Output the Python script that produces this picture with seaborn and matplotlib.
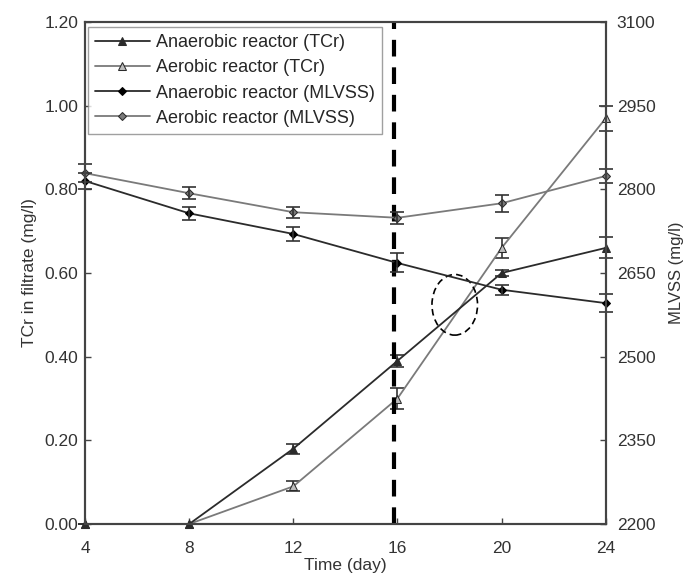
import matplotlib
matplotlib.use("Agg")
import matplotlib.pyplot as plt
from matplotlib.patches import Ellipse
import seaborn as sns
import pandas as pd

# Sampling days
days = [4, 8, 12, 16, 20, 24]

# Total chromium in filtrate (mg/l)
tcr_anaerobic = [0.0, 0.0, 0.18, 0.39, 0.60, 0.66]
tcr_anaerobic_err = [0.0, 0.0, 0.012, 0.014, 0.008, 0.025]
tcr_aerobic = [0.0, 0.0, 0.09, 0.30, 0.66, 0.97]
tcr_aerobic_err = [0.0, 0.0, 0.012, 0.024, 0.024, 0.03]

# Mixed liquor volatile suspended solids (mg/l)
mlvss_anaerobic = [2815, 2757, 2720, 2668, 2620, 2596]
mlvss_anaerobic_err = [14, 12, 12, 17, 9, 16]
mlvss_aerobic = [2829, 2793, 2759, 2749, 2775, 2824]
mlvss_aerobic_err = [16, 11, 10, 11, 15, 12]

labels = ["Anaerobic reactor (TCr)", "Aerobic reactor (TCr)",
          "Anaerobic reactor (MLVSS)", "Aerobic reactor (MLVSS)"]

sns.set_style("white")
plt.rcParams["font.family"] = ["Liberation Sans", "DejaVu Sans"]
plt.rcParams["font.size"] = 12.5

dark = "#2b2b2b"
grey = "#7a7a7a"
fs = 12.5

fig = plt.figure(figsize=(6.86, 5.75), dpi=100)
ax1 = fig.add_axes([0.124, 0.0887, 0.759, 0.873])
ax2 = ax1.twinx()

df_tcr = pd.DataFrame({"day": days, "an": tcr_anaerobic, "ae": tcr_aerobic})
df_ml = pd.DataFrame({"day": days, "an": mlvss_anaerobic, "ae": mlvss_aerobic})

sns.lineplot(data=df_tcr, x="day", y="an", ax=ax1, color=dark, lw=1.3,
             marker="^", markersize=6, markeredgecolor=dark, markerfacecolor=dark,
             label=labels[0], legend=False, clip_on=False, zorder=4)
sns.lineplot(data=df_tcr, x="day", y="ae", ax=ax1, color=grey, lw=1.3,
             marker="^", markersize=6, markeredgecolor=dark, markerfacecolor="#bdbdbd",
             label=labels[1], legend=False, clip_on=False, zorder=3)
sns.lineplot(data=df_ml, x="day", y="an", ax=ax2, color=dark, lw=1.3,
             marker="D", markersize=4, markeredgecolor="black", markerfacecolor="black",
             label=labels[2], legend=False, clip_on=False)
sns.lineplot(data=df_ml, x="day", y="ae", ax=ax2, color=grey, lw=1.3,
             marker="D", markersize=4, markeredgecolor=dark, markerfacecolor=grey,
             label=labels[3], legend=False, clip_on=False)

ekw = dict(fmt="none", ecolor="#333333", elinewidth=1.2, capsize=5, capthick=1.2,
           clip_on=False)
ax1.errorbar(days, tcr_anaerobic, yerr=tcr_anaerobic_err, **ekw)
ax1.errorbar(days, tcr_aerobic, yerr=tcr_aerobic_err, **ekw)
ax2.errorbar(days, mlvss_anaerobic, yerr=mlvss_anaerobic_err, **ekw)
ax2.errorbar(days, mlvss_aerobic, yerr=mlvss_aerobic_err, **ekw)

# Dashed divider and dashed ellipse marking the crossover region
ax1.axvline(15.85, color="black", lw=3, linestyle=(0, (4, 2.6)), zorder=5)
ax1.add_patch(Ellipse((18.2, 0.524), 1.75, 0.145, fill=False, edgecolor="black",
                      lw=1.2, linestyle=(0, (4, 2.5)), zorder=6))

ax1.set_xlim(4, 24)
ax1.set_ylim(0, 1.2)
ax2.set_ylim(2200, 3100)
ax1.set_xticks(days)
ax1.set_yticks([0, 0.2, 0.4, 0.6, 0.8, 1.0, 1.2])
ax1.set_yticklabels([f"{v:.2f}" for v in ax1.get_yticks()])
ax2.set_yticks(range(2200, 3101, 150))

ax1.set_xlabel("Time (day)", fontsize=fs, color="#333333", labelpad=2)
ax1.set_ylabel("TCr in filtrate (mg/l)", fontsize=fs, color="#333333", labelpad=5)
ax2.set_ylabel("MLVSS (mg/l)", fontsize=12, color="#333333", labelpad=10)

for ax in (ax1, ax2):
    for s in ax.spines.values():
        s.set_color("#444444")
        s.set_linewidth(1.5)
ax1.tick_params(axis="both", direction="in", length=4, width=1, colors="#444444",
                labelcolor="#333333", labelsize=fs)
ax1.tick_params(axis="x", bottom=True, top=False, pad=12)
ax1.tick_params(axis="y", left=True, pad=5)
ax2.tick_params(axis="y", direction="in", length=4, width=1, colors="#444444",
                labelcolor="#333333", labelsize=fs, right=True, pad=8)

handles = ax1.get_lines()[:2] + ax2.get_lines()[:2]
leg = ax1.legend(handles, labels, loc="upper left", bbox_to_anchor=(0.006, 0.99),
                 fontsize=13, frameon=True, fancybox=False, handlelength=3.0,
                 borderpad=0.4, labelspacing=0.45, handletextpad=0.35, borderaxespad=0)
leg.get_frame().set_edgecolor("#888888")
leg.get_frame().set_linewidth(1.0)
leg.set_zorder(10)

fig.savefig("out.png", dpi=100, facecolor="white")
